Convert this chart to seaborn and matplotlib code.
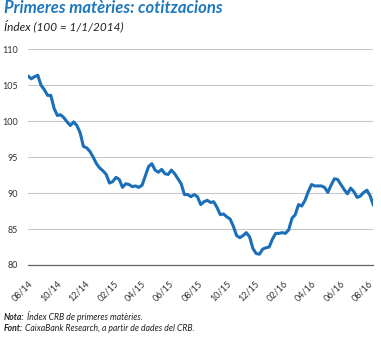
import matplotlib
matplotlib.use("Agg")
import matplotlib.pyplot as plt
import seaborn as sns
import pandas as pd

# ---- data (weekly readings of the CRB index, 100 = 1/1/2014) ----
start_date = "2014-08-01"
index_values = [
    106.3, 105.9, 106.2, 106.4, 105.0, 104.4, 103.6, 103.6, 101.8, 100.8,
    100.9, 100.5, 99.9, 99.4, 99.9, 99.4, 98.4, 96.5, 96.3, 95.8,
    95.0, 94.1, 93.5, 93.1, 92.6, 91.4, 91.6, 92.2, 91.9, 90.8,
    91.3, 91.2, 90.9, 91.0, 90.8, 91.1, 92.4, 93.7, 94.1, 93.2,
    92.9, 93.3, 92.7, 92.6, 93.2, 92.7, 92.0, 91.3, 89.8, 89.8,
    89.5, 89.8, 89.5, 88.4, 88.8, 89.0, 88.7, 88.8, 88.0, 87.0,
    87.1, 86.7, 86.4, 85.4, 84.1, 83.8, 84.1, 84.5, 83.9, 82.3,
    81.6, 81.5, 82.2, 82.4, 82.5, 83.6, 84.4, 84.4, 84.5, 84.4,
    84.9, 86.5, 87.0, 88.4, 88.2, 89.0, 90.2, 91.2, 91.0, 91.0,
    91.0, 90.8, 90.1, 91.1, 92.0, 91.9, 91.2, 90.5, 89.9, 90.7,
    90.2, 89.4, 89.6, 90.1, 90.4, 89.6, 88.3,
]
tick_labels = ["08/14", "10/14", "12/14", "02/15", "04/15", "06/15", "08/15",
               "10/15", "12/15", "02/16", "04/16", "06/16", "08/16"]
y_ticks = [80, 85, 90, 95, 100, 105, 110]

title = "Primeres matèries: cotitzacions"
subtitle = "Índex (100 = 1/1/2014)"
note_label, note_text = "Nota:", "Índex CRB de primeres matèries."
src_label, src_text = "Font:", "CaixaBank Research, a partir de dades del CRB."

dates = pd.date_range(start_date, periods=len(index_values), freq="7D")
tick_dates = pd.date_range("2014-08-01", periods=len(tick_labels), freq="2MS")
df = pd.DataFrame({"date": dates, "value": index_values})

sns.set_style("white")
plt.rcParams["font.family"] = ["Lato", "DejaVu Sans"]

W, H = 381, 338
fig = plt.figure(figsize=(W / 100, H / 100), dpi=100)
ax = fig.add_axes([28 / W, 1 - 265 / H, (373 - 28) / W, (265 - 49) / H])

sns.lineplot(data=df, x="date", y="value", ax=ax, color="#1a6fb8", linewidth=2.2)

ax.set_ylim(80, 110.05)
ax.set_xlim(pd.Timestamp("2014-08-01"), pd.Timestamp("2016-08-11"))
ax.set_yticks(y_ticks)
ax.set_yticklabels([str(v) for v in y_ticks])
ax.yaxis.grid(True, color="#c8c8c8", linewidth=0.8)
ax.xaxis.grid(False)
ax.set_axisbelow(True)
ax.set_xticks(tick_dates)
ax.set_xticklabels(tick_labels, rotation=45, ha="right", va="top",
                   rotation_mode="anchor", fontsize=6.5, color="#333333")
for s in ["top", "right", "left"]:
    ax.spines[s].set_visible(False)
ax.spines["bottom"].set_color("#666666")
ax.spines["bottom"].set_linewidth(0.9)
ax.tick_params(axis="x", direction="in", length=3, width=0.8, color="#666666", pad=10)
ax.tick_params(axis="y", length=0, pad=7, labelsize=6.5, labelcolor="#333333")
ax.set_xlabel("")
ax.set_ylabel("")

fig.text(4 / W, 1 - 13 / H, title, fontsize=12, fontweight="bold", fontstyle="italic",
         color="#1e78be", va="baseline", ha="left")
fig.text(4 / W, 1 - 30 / H, subtitle, fontsize=8.5, fontstyle="italic",
         color="#222222", va="baseline", ha="left")

renderer = fig.canvas.get_renderer()
for lab, txt, yb in [(note_label, note_text, 320), (src_label, src_text, 331)]:
    t1 = fig.text(4 / W, 1 - yb / H, lab, fontsize=6.2, fontweight="bold",
                  fontstyle="italic", color="#222222", va="baseline", ha="left")
    bb = t1.get_window_extent(renderer=renderer)
    fig.text(bb.x1 / W + 2 / W, 1 - yb / H, txt, fontsize=6.2, fontstyle="italic",
             color="#222222", va="baseline", ha="left")

fig.savefig("out.png", dpi=100)
